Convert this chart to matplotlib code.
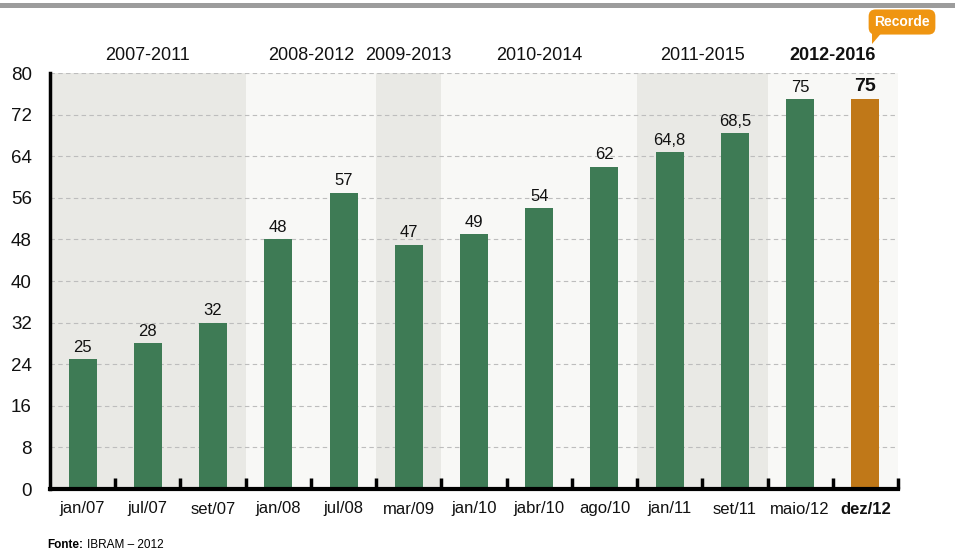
import matplotlib
matplotlib.use("Agg")
import matplotlib.pyplot as plt
from matplotlib.patches import Rectangle, Polygon
from matplotlib.transforms import blended_transform_factory

plt.rcParams['font.family'] = ['Liberation Sans', 'DejaVu Sans']

# dados
categorias = ['jan/07', 'jul/07', 'set/07', 'jan/08', 'jul/08', 'mar/09', 'jan/10',
              'jabr/10', 'ago/10', 'jan/11', 'set/11', 'maio/12', 'dez/12']
valores = [25, 28, 32, 48, 57, 47, 49, 54, 62, 64.8, 68.5, 75, 75]
rotulos = ['25', '28', '32', '48', '57', '47', '49', '54', '62', '64,8', '68,5', '75', '75']

periodos = ['2007-2011', '2008-2012', '2009-2013', '2010-2014', '2011-2015', '2012-2016']
periodo_inicio = [0, 3, 5, 6, 9, 11]
periodo_fim = [2, 4, 5, 8, 10, 12]

verde = '#3e7b55'
laranja = '#c07818'
escuro = '#e9e9e5'
claro = '#f8f8f6'

W, H = 958, 559
fig = plt.figure(figsize=(W / 100, H / 100), dpi=100)
ax = fig.add_axes([50 / W, 1 - 489 / H, 848 / W, 416 / H])

n = len(categorias)
x = list(range(n))

# faixas de fundo
for i, (a, b) in enumerate(zip(periodo_inicio, periodo_fim)):
    ax.axvspan(a - 0.5, b + 0.5, ymin=0, ymax=1, color=escuro if i % 2 == 0 else claro,
               zorder=0, lw=0)

# grade
for v in range(8, 81, 8):
    ax.axhline(v, color='#bdbdbd', lw=0.8, ls=(0, (4, 3)), zorder=1)

cores = [verde] * (n - 1) + [laranja]
ax.bar(x, valores, width=0.43, color=cores, zorder=2)

for i, (v, r) in enumerate(zip(valores, rotulos)):
    ultimo = i == n - 1
    ax.annotate(r, (i, v), xytext=(0, 3), textcoords='offset points', ha='center', va='bottom',
                fontsize=14 if ultimo else 12, fontweight='bold' if ultimo else 'normal',
                color='#111111')

ax.set_xlim(-0.5, n - 0.5)
ax.set_ylim(0, 80)
ax.set_yticks(range(0, 81, 8))
ax.set_xticks(x)
ax.set_xticklabels(categorias)
for i, lbl in enumerate(ax.get_xticklabels()):
    lbl.set_fontsize(12)
    lbl.set_color('#111111')
    if i == n - 1:
        lbl.set_fontweight('bold')
ax.set_xticks([i + 0.5 for i in range(n)], minor=True)
ax.tick_params(axis='x', which='major', length=0, pad=9)
ax.tick_params(axis='x', which='minor', direction='in', length=8, width=2.5, color='black')
ax.tick_params(axis='y', length=0, pad=13, labelsize=13.5, labelcolor='#111111')

for s in ['top', 'right']:
    ax.spines[s].set_visible(False)
ax.spines['left'].set_linewidth(2.5)
ax.spines['bottom'].set_linewidth(3)
ax.spines['left'].set_zorder(3)
ax.spines['bottom'].set_zorder(3)

# rótulos dos períodos
trans = blended_transform_factory(ax.transData, ax.transAxes)
for i, (p, a, b) in enumerate(zip(periodos, periodo_inicio, periodo_fim)):
    ultimo = i == len(periodos) - 1
    ax.text((a + b) / 2, 1.043, p, transform=trans, ha='center', va='center',
            fontsize=13, fontweight='bold' if ultimo else 'normal', color='#111111')

# faixa cinza superior
fig.patches.append(Rectangle((0, 1 - 8 / H), 955 / W, 5 / H, transform=fig.transFigure,
                             color='#9c9c9c', lw=0))

# balão "Recorde"
fig.text(902 / W, 1 - 22 / H, 'Recorde', ha='center', va='center', color='white',
         fontsize=10, fontweight='bold',
         bbox=dict(boxstyle='round,pad=0.4,rounding_size=0.5', fc='#ef9511', ec='none'))
fig.patches.append(Polygon([(872 / W, 1 - 30 / H), (884 / W, 1 - 30 / H), (872 / W, 1 - 44 / H)],
                           closed=True, transform=fig.transFigure, color='#ef9511', lw=0))

# fonte
t1 = fig.text(47 / W, 1 - 545 / H, 'Fonte:', fontsize=8.5, fontweight='bold', va='center')
ax.annotate('IBRAM – 2012', xy=(1, 0.5), xycoords=t1, xytext=(3, 0), textcoords='offset points',
            va='center', fontsize=8.5, annotation_clip=False)

fig.savefig('out.png', dpi=100)
